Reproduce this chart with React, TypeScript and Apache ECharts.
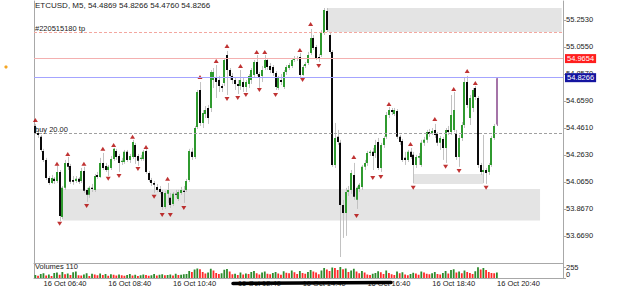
import React, { useEffect, useRef } from "react";
import * as echarts from "echarts";

const FONT = "'Liberation Sans', Arial, sans-serif";

// OHLC values of the 5-minute candles (16 Oct, from 05:45)
const opens = [
  54.476, 54.425, 54.396, 54.293, 54.227, 54.095, 54.058, 54.088, 54.073, 54.139,
  53.809, 54.022, 54.205, 54.183, 54.080, 54.073, 54.088, 54.073, 54.146, 54.007,
  53.971, 54.022, 54.007, 54.117, 54.102, 54.205, 54.183, 54.153, 54.168, 54.234,
  54.293, 54.256, 54.212, 54.212, 54.286, 54.227, 54.249, 54.337, 54.256, 54.234,
  54.234, 54.293, 54.131, 54.080, 54.058, 54.029, 54.014, 53.992, 53.882, 53.978,
  53.949, 53.904, 53.978, 53.941, 53.985, 54.000, 54.007, 54.080, 54.286, 54.249,
  54.469, 54.740, 54.498, 54.564, 54.608, 54.608, 54.813, 54.828, 54.813, 54.769,
  54.791, 54.996, 54.886, 54.843, 54.813, 54.784, 54.769, 54.798, 54.762, 54.784,
  54.813, 54.850, 54.945, 54.857, 54.843, 54.901, 54.960, 54.916, 54.908, 54.864,
  54.754, 54.813, 54.762, 54.872, 54.901, 54.916, 54.960, 54.967, 54.982, 54.850,
  54.916, 54.938, 55.011, 55.121, 55.055, 54.982, 54.996, 55.158, 55.319, 55.143,
  55.019, 54.190, 54.396, 54.352, 53.897, 53.838, 53.992, 54.007, 54.117, 53.934,
  54.014, 54.029, 54.176, 54.205, 54.278, 54.286, 54.278, 54.359, 54.168, 54.337,
  54.396, 54.556, 54.593, 54.564, 54.586, 54.396, 54.366, 54.242, 54.227, 54.286,
  54.264, 54.190, 54.242, 54.190, 54.352, 54.374, 54.432, 54.425, 54.447, 54.417,
  54.352, 54.381, 54.315, 54.447, 54.432, 54.447, 54.425, 54.249, 54.388, 54.483,
  54.798, 54.534, 54.608, 54.754, 54.681, 54.190, 54.139, 54.153, 54.139, 54.190,
  54.388, 54.4869,
];
const closes = [
  54.425, 54.410, 54.300, 54.227, 54.095, 54.058, 54.095, 54.073, 54.139, 53.816,
  54.022, 54.205, 54.176, 54.066, 54.066, 54.088, 54.066, 54.146, 54.000, 53.971,
  54.022, 54.014, 54.109, 54.102, 54.205, 54.168, 54.153, 54.176, 54.234, 54.308,
  54.249, 54.205, 54.220, 54.286, 54.227, 54.256, 54.359, 54.249, 54.220, 54.242,
  54.286, 54.139, 54.080, 54.058, 54.044, 54.007, 53.992, 53.882, 53.985, 54.007,
  53.897, 53.978, 53.971, 53.992, 54.007, 53.992, 54.073, 54.293, 54.249, 54.461,
  54.725, 54.498, 54.571, 54.593, 54.534, 54.872, 54.872, 54.798, 54.769, 54.754,
  54.960, 54.886, 54.843, 54.813, 54.784, 54.769, 54.813, 54.762, 54.798, 54.843,
  54.886, 54.945, 54.857, 54.828, 54.886, 54.960, 54.908, 54.886, 54.864, 54.762,
  54.828, 54.798, 54.872, 54.908, 54.923, 54.960, 54.974, 54.974, 54.850, 54.908,
  54.930, 54.996, 55.121, 55.048, 54.974, 54.974, 55.158, 55.326, 55.180, 55.019,
  54.190, 54.388, 54.359, 53.897, 53.838, 53.992, 54.007, 54.131, 53.956, 54.022,
  54.044, 54.176, 54.205, 54.278, 54.286, 54.256, 54.337, 54.168, 54.337, 54.388,
  54.556, 54.593, 54.578, 54.593, 54.396, 54.359, 54.227, 54.227, 54.286, 54.249,
  54.190, 54.249, 54.256, 54.352, 54.374, 54.432, 54.417, 54.439, 54.410, 54.352,
  54.388, 54.315, 54.447, 54.432, 54.556, 54.593, 54.249, 54.388, 54.483, 54.798,
  54.630, 54.681, 54.740, 54.688, 54.190, 54.139, 54.153, 54.131, 54.190, 54.388,
  54.476, 54.8266,
];
const lows = [
  54.417, 54.388, 54.286, 54.212, 54.080, 54.044, 54.051, 54.051, 54.058, 53.779,
  53.794, 54.007, 54.153, 54.051, 54.044, 54.058, 54.051, 54.058, 53.985, 53.919,
  53.949, 53.992, 53.992, 54.088, 54.095, 54.153, 54.139, 54.109, 54.153, 54.220,
  54.227, 54.139, 54.190, 54.198, 54.212, 54.205, 54.234, 54.198, 54.183, 54.220,
  54.220, 54.124, 54.066, 54.036, 53.985, 53.992, 53.978, 53.860, 53.868, 53.912,
  53.875, 53.889, 53.949, 53.926, 53.971, 53.912, 53.992, 54.066, 54.227, 54.234,
  54.454, 54.476, 54.461, 54.534, 54.491, 54.578, 54.754, 54.681, 54.725, 54.725,
  54.769, 54.703, 54.813, 54.784, 54.740, 54.710, 54.740, 54.725, 54.725, 54.754,
  54.784, 54.828, 54.843, 54.754, 54.798, 54.886, 54.886, 54.864, 54.843, 54.740,
  54.740, 54.776, 54.747, 54.850, 54.886, 54.901, 54.945, 54.952, 54.835, 54.843,
  54.901, 54.923, 54.996, 55.033, 54.960, 54.945, 54.982, 55.143, 55.165, 55.004,
  54.176, 54.168, 54.337, 53.515, 53.655, 53.670, 53.963, 53.978, 53.934, 53.868,
  53.992, 54.007, 54.153, 54.183, 54.256, 54.153, 54.242, 54.153, 54.139, 54.315,
  54.381, 54.534, 54.556, 54.549, 54.381, 54.337, 54.212, 54.190, 54.212, 54.234,
  54.058, 54.168, 54.190, 54.176, 54.330, 54.352, 54.396, 54.410, 54.388, 54.330,
  54.300, 54.227, 54.205, 54.410, 54.410, 54.432, 54.227, 54.176, 54.366, 54.461,
  54.608, 54.483, 54.578, 54.666, 54.168, 54.117, 54.058, 54.051, 54.117, 54.176,
  54.374, 54.476,
];
const highs = [
  54.491, 54.447, 54.410, 54.308, 54.242, 54.109, 54.117, 54.102, 54.183, 54.153,
  54.036, 54.227, 54.249, 54.198, 54.109, 54.109, 54.102, 54.168, 54.176, 54.022,
  54.036, 54.051, 54.124, 54.139, 54.242, 54.278, 54.205, 54.190, 54.256, 54.315,
  54.308, 54.271, 54.242, 54.300, 54.300, 54.271, 54.374, 54.352, 54.271, 54.264,
  54.300, 54.308, 54.146, 54.095, 54.073, 54.051, 54.036, 54.007, 54.000, 54.058,
  53.985, 53.992, 54.007, 54.007, 54.029, 54.036, 54.088, 54.308, 54.315, 54.476,
  54.740, 54.798, 54.593, 54.622, 54.630, 54.886, 54.901, 54.923, 54.843, 54.784,
  54.974, 55.026, 54.901, 54.864, 54.835, 54.813, 54.886, 54.828, 54.813, 54.857,
  54.901, 54.960, 54.996, 54.872, 54.916, 54.996, 54.974, 54.938, 54.923, 54.879,
  54.843, 54.857, 54.886, 54.923, 54.938, 54.974, 54.989, 54.989, 55.011, 54.923,
  54.945, 55.019, 55.187, 55.143, 55.070, 55.004, 55.180, 55.341, 55.341, 55.165,
  55.033, 54.498, 54.447, 54.374, 53.934, 54.022, 54.036, 54.153, 54.205, 54.036,
  54.058, 54.190, 54.227, 54.293, 54.300, 54.315, 54.374, 54.388, 54.352, 54.403,
  54.578, 54.615, 54.608, 54.608, 54.600, 54.410, 54.381, 54.286, 54.300, 54.315,
  54.286, 54.264, 54.278, 54.374, 54.396, 54.447, 54.454, 54.461, 54.491, 54.432,
  54.403, 54.396, 54.461, 54.476, 54.703, 54.725, 54.447, 54.410, 54.505, 54.835,
  54.843, 54.703, 54.754, 54.769, 54.696, 54.205, 54.410, 54.168, 54.205, 54.403,
  54.491, 54.8266,
];
const volumes = [
  60, 45, 80, 95, 50, 70, 40, 100, 110, 65,
  120, 75, 90, 60, 115, 130, 55, 50, 70, 95,
  40, 85, 70, 55, 90, 60, 80, 45, 75, 65,
  50, 70, 55, 45, 60, 80, 50, 65, 40, 55,
  70, 60, 45, 55, 80, 50, 65, 75, 55, 60,
  70, 50, 85, 60, 65, 75, 80, 140, 120, 170,
  190, 175, 120, 90, 110, 185, 150, 100, 80, 95,
  165, 180, 130, 75, 85, 60, 110, 70, 90, 80,
  120, 140, 95, 70, 110, 130, 85, 75, 100, 120,
  90, 65, 135, 105, 95, 150, 115, 80, 140, 100,
  85, 120, 160, 130, 110, 75, 150, 200, 170, 140,
  210, 200, 160, 220, 175, 190, 120, 150, 185, 130,
  95, 140, 110, 70, 60, 85, 100, 135, 115, 80,
  150, 100, 75, 60, 130, 95, 115, 70, 55, 80,
  105, 90, 65, 130, 110, 85, 75, 95, 120, 80,
  70, 100, 140, 90, 160, 175, 110, 130, 95, 150,
  120, 100, 80, 135, 215, 170, 200, 160, 120, 100,
  95, 110,
];

// Fractal markers (bar index, price)
const fractalUpIdx = [0, 8, 12, 18, 25, 29, 36, 41, 49, 61, 67, 71, 76, 82, 85, 98, 102, 118, 131, 139, 148, 155, 160, 163];
const fractalUpPrice = [54.520, 54.198, 54.271, 54.198, 54.308, 54.337, 54.396, 54.322, 54.088, 54.835, 54.952, 55.062, 54.916, 55.019, 55.019, 55.033, 55.224, 54.249, 54.637, 54.344, 54.527, 54.747, 54.879, 54.791];
const fractalDnIdx = [9, 19, 27, 31, 38, 44, 47, 50, 55, 71, 75, 78, 83, 89, 99, 105, 119, 125, 128, 140, 152, 157, 167];
const fractalDnPrice = [53.758, 53.889, 54.088, 54.109, 54.161, 53.956, 53.823, 53.823, 53.875, 54.674, 54.681, 54.703, 54.740, 54.703, 54.813, 54.916, 53.816, 54.095, 54.102, 54.022, 54.176, 54.146, 54.022];

// Zones: [startIdx, endIdx, upper price, lower price]
const zones = [
  [108, 195, 55.341, 55.165],
  [10, 187, 54.014, 53.782],
  [140, 166, 54.124, 54.051],
];

const tpLevel = 55.158;
const bidLevel = 54.9654;
const askLevel = 54.8266;
const buyLevel = 54.417;

const priceTicks = [55.253, 55.055, 54.857, 54.659, 54.461, 54.263, 54.065, 53.867, 53.669];
const volumeTop = 255;
const volumeBottom = 0;
const tickLabels = [
  "16 Oct 06:40", "16 Oct 08:40", "16 Oct 10:40", "16 Oct 12:40",
  "16 Oct 14:40", "16 Oct 16:40", "16 Oct 18:40", "16 Oct 20:40",
];
const SLOT_COUNT = 196;
const START_MINUTE = 5 * 60 + 45;
const categories = Array.from({ length: SLOT_COUNT }, (_, i) => {
  const m = START_MINUTE + 5 * i;
  return String(Math.floor(m / 60)).padStart(2, "0") + ":" + String(m % 60).padStart(2, "0");
});

const PRICE_MIN = 53.471;
const PRICE_MAX = 55.3923;

export default function App() {
  const ref = useRef<HTMLDivElement>(null);
  useEffect(() => {
    if (!ref.current) return;
    const chart = echarts.init(ref.current, null, { renderer: "svg" });
    const candleData = opens.map((o, i) => [i, o, closes[i], lows[i], highs[i]]);
    const lastIdx = opens.length - 1;
    const volData = volumes.map((v, i) => ({
      value: v,
      itemStyle: { color: i === 0 || v > volumes[i - 1] ? "#2e8b2e" : "#ff2a2a" },
    }));
    const txt = { fontSize: 7.5, color: "#222", fontFamily: FONT };
    const option: any = {
      animation: false,
      backgroundColor: "#ffffff",
      title: [
        { text: "ETCUSD, M5, 54.4869 54.8266 54.4760 54.8266", left: 35, top: 1.5, padding: 0, textStyle: { ...txt, fontSize: 8, fontWeight: "normal" } },
        { text: "Volumes 110", left: 35, top: 262, padding: 0, textStyle: { ...txt, fontWeight: "normal" } },
      ],
      grid: [
        { left: 34, right: 62, top: 1, height: 262 },
        { left: 34, right: 62, top: 263, height: 15 },
      ],
      xAxis: [
        {
          type: "category", gridIndex: 0, data: categories,
          axisLine: { onZero: false, lineStyle: { color: "#a8a8a8", width: 1 } },
          axisTick: { show: false }, axisLabel: { show: false }, splitLine: { show: false },
        },
        {
          type: "category", gridIndex: 1, data: categories,
          axisLine: { onZero: false, lineStyle: { color: "#a8a8a8", width: 1 } },
          axisTick: { show: false }, splitLine: { show: false },
          axisLabel: {
            ...txt, margin: 1,
            interval: (_i: number, v: string) => tickLabels.includes("16 Oct " + v),
            formatter: (v: string) => "16 Oct " + v,
          },
        },
      ],
      yAxis: [
        {
          type: "value", gridIndex: 0, position: "right", min: PRICE_MIN, max: PRICE_MAX,
          axisLine: { show: true, lineStyle: { color: "#a8a8a8" } },
          axisTick: { show: true, length: 3, customValues: priceTicks, lineStyle: { color: "#a8a8a8" } },
          axisLabel: { ...txt, margin: 3, customValues: priceTicks, formatter: (v: number) => v.toFixed(4) },
          splitLine: { show: false },
        },
        {
          type: "value", gridIndex: 0, position: "left", min: PRICE_MIN, max: PRICE_MAX,
          axisLine: { show: true, lineStyle: { color: "#a8a8a8" } },
          axisTick: { show: false }, axisLabel: { show: false }, splitLine: { show: false },
        },
        {
          type: "value", gridIndex: 1, position: "left", min: 0, max: 300,
          axisLine: { show: true, lineStyle: { color: "#a8a8a8" } },
          axisTick: { show: false }, axisLabel: { show: false }, splitLine: { show: false },
        },
        {
          type: "value", gridIndex: 1, position: "right", min: 0, max: 348,
          axisLine: { show: true, lineStyle: { color: "#a8a8a8" } },
          axisTick: { show: true, length: 3, customValues: [volumeBottom, volumeTop], lineStyle: { color: "#a8a8a8" } },
          axisLabel: {
            ...txt, margin: 3, verticalAlign: "bottom", lineHeight: 7, showMinLabel: true,
            customValues: [volumeBottom], formatter: (v: number) => String(v),
          },
          splitLine: { show: false },
        },
      ],
      series: [
        {
          type: "line", xAxisIndex: 0, yAxisIndex: 0, data: [], z: 1, silent: true,
          markArea: {
            silent: true,
            itemStyle: { color: "#e4e4e4" },
            data: zones.map((z) => [{ xAxis: z[0], yAxis: z[2] }, { xAxis: z[1], yAxis: z[3] }]),
          },
          markLine: {
            silent: true, symbol: ["none", "none"],
            data: [
              {
                yAxis: tpLevel, lineStyle: { color: "#f3a7a0", type: [3, 2], width: 1 },
                label: { show: true, position: "insideStartTop", distance: [1, 0], formatter: "#220515180 tp", ...txt },
              },
              {
                yAxis: buyLevel, lineStyle: { color: "#a0a0a0", type: [3, 2], width: 1 },
                label: { show: true, position: "insideStartTop", distance: [1, 0], formatter: "buy 20.00", ...txt },
              },
              {
                yAxis: bidLevel, lineStyle: { color: "#f4b0b0", type: "solid", width: 1 },
                label: {
                  show: true, position: "end", distance: 2, formatter: bidLevel.toFixed(4),
                  fontSize: 7.5, fontFamily: FONT, color: "#ffffff", backgroundColor: "#ff1e1e", padding: [1, 2, 0, 2], lineHeight: 8,
                },
              },
              {
                yAxis: askLevel, lineStyle: { color: "#a4a4ff", type: "solid", width: 1 },
                label: {
                  show: true, position: "end", distance: 2, formatter: askLevel.toFixed(4),
                  fontSize: 7.5, fontFamily: FONT, color: "#ffffff", backgroundColor: "#1414a0", padding: [1, 2, 0, 2], lineHeight: 8,
                },
              },
            ],
          },
        },
        {
          type: "line", xAxisIndex: 1, yAxisIndex: 3, data: [], z: 5, silent: true,
          markLine: {
            silent: true, symbol: ["none", "none"],
            data: [
              {
                yAxis: volumeTop,
                lineStyle: { color: "rgba(255,255,255,0)", width: 0 },
                label: { show: true, position: "end", distance: 3, lineHeight: 7, formatter: String(volumeTop), ...txt },
              },
            ],
          },
        },
        {
          type: "custom", xAxisIndex: 0, yAxisIndex: 0, z: 3, data: candleData,
          encode: { x: 0, y: [1, 2, 3, 4] },
          renderItem: (params: any, api: any) => {
            const x = api.value(0);
            const o = api.value(1), c = api.value(2), l = api.value(3), h = api.value(4);
            const pO = api.coord([x, o]);
            const pC = api.coord([x, c]);
            const pL = api.coord([x, l]);
            const pH = api.coord([x, h]);
            const xr = Math.round(pO[0]);
            const top = Math.min(pO[1], pC[1]);
            const bh = Math.max(1, Math.abs(pO[1] - pC[1]));
            const last = params.dataIndex === lastIdx;
            const fill = last ? "#a574a8" : c >= o ? "#2f9a2f" : "#0a0a0a";
            return {
              type: "group",
              children: [
                { type: "line", shape: { x1: xr + 0.5, y1: pH[1], x2: xr + 0.5, y2: pL[1] }, style: { stroke: last ? "#a574a8" : "#c2c2c2", lineWidth: 1 } },
                { type: "rect", shape: { x: xr - 1, y: top, width: 2, height: bh }, style: { fill } },
              ],
            };
          },
        },
        {
          type: "scatter", xAxisIndex: 0, yAxisIndex: 0, z: 4, symbol: "triangle", symbolSize: [5, 4],
          itemStyle: { color: "#b00000" }, silent: true,
          data: fractalUpIdx.map((i, k) => [i, fractalUpPrice[k]]),
        },
        {
          type: "scatter", xAxisIndex: 0, yAxisIndex: 0, z: 4, symbol: "triangle", symbolSize: [5, 4], symbolRotate: 180,
          itemStyle: { color: "#b00000" }, silent: true,
          data: fractalDnIdx.map((i, k) => [i, fractalDnPrice[k]]),
        },
        {
          type: "bar", xAxisIndex: 1, yAxisIndex: 2, barWidth: 1.8, data: volData, silent: true,
        },
      ],
      graphic: [
        { type: "circle", shape: { cx: 6, cy: 67, r: 1.6 }, style: { fill: "#f5a623" } },
        {
          type: "polyline", z: 100,
          shape: { points: [[233, 283.5], [300, 283], [391, 282.5]] },
          style: { stroke: "#000", lineWidth: 3.5, lineCap: "round", fill: null },
        },
      ],
    };
    chart.setOption(option);
    return () => chart.dispose();
  }, []);
  return (
    <div
      ref={ref}
      style={{ position: "fixed", left: 0, top: 0, width: 625, height: 289, background: "#fff" }}
    />
  );
}
